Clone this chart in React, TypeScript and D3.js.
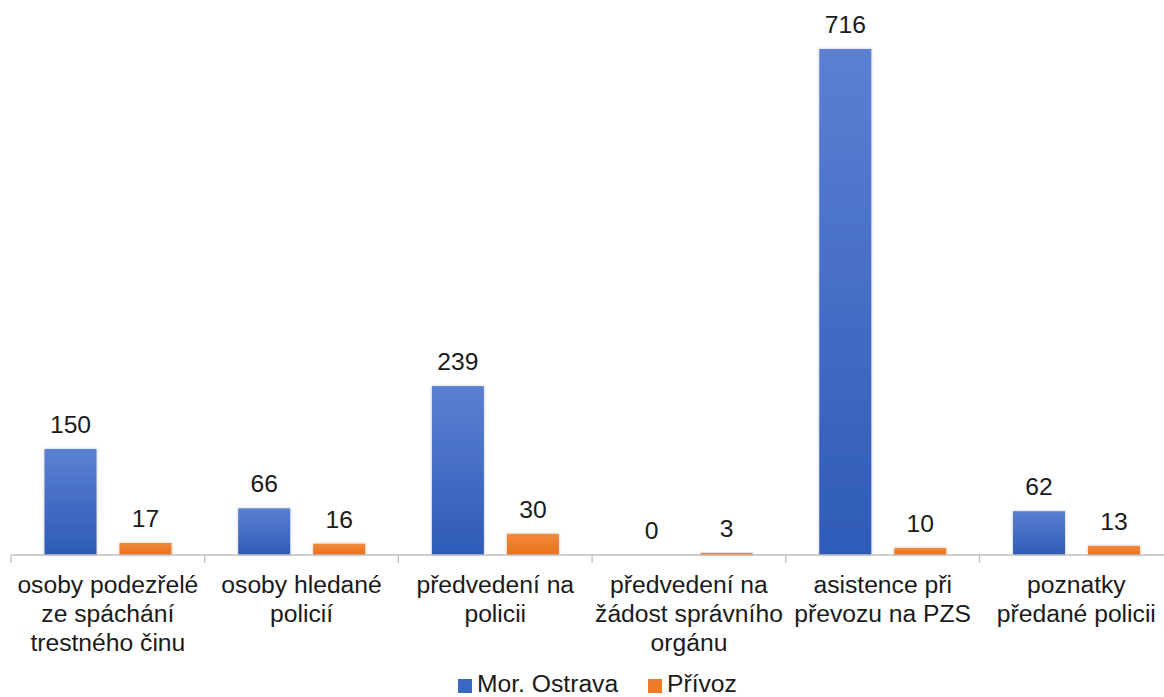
import React from "react";
import * as d3 from "d3";

const categories: string[][] = [
  ["osoby podezřelé", "ze spáchání", "trestného činu"],
  ["osoby hledané", "policií"],
  ["předvedení na", "policii"],
  ["předvedení na", "žádost správního", "orgánu"],
  ["asistence při", "převozu na PZS"],
  ["poznatky", "předané policii"],
];
const seriesNames = ["Mor. Ostrava", "Přívoz"];
const morOstrava = [150, 66, 239, 0, 716, 62];
const privoz = [17, 16, 30, 3, 10, 13];

const W = 1164;
const H = 697;
const FONT = "'Liberation Sans', Arial, sans-serif";
const FS = 23.5;
const SX = 1.05;

function T(props: { x: number; y: number; anchor?: string; children: React.ReactNode }) {
  return (
    <text
      transform={`translate(${props.x},${props.y}) scale(${SX},1)`}
      textAnchor={props.anchor || "middle"}
      fontSize={FS}
      fill="#1a1a1a"
    >
      {props.children}
    </text>
  );
}

export default function App() {
  const baseY = 555;
  const catIdx = categories.map((_, i) => String(i));
  const x0 = d3.scaleBand<string>().domain(catIdx).range([11, 11 + 6 * 193.7]).padding(0);
  const x1 = d3
    .scaleBand<string>()
    .domain(seriesNames)
    .range([33.5, 160.5])
    .paddingInner(23 / 75)
    .paddingOuter(0);
  const y = d3.scaleLinear().domain([0, 716]).range([baseY, 49]);
  const values = [morOstrava, privoz];
  const fills = ["url(#gBlue)", "url(#gOrange)"];

  return (
    <svg
      width={W}
      height={H}
      style={{ position: "absolute", left: 0, top: 0, background: "#fff" }}
      fontFamily={FONT}
    >
      <defs>
        <linearGradient id="gBlue" x1="0" y1="0" x2="0" y2="1">
          <stop offset="0" stopColor="#5b80d2" />
          <stop offset="1" stopColor="#2d5bb7" />
        </linearGradient>
        <linearGradient id="gOrange" x1="0" y1="0" x2="0" y2="1">
          <stop offset="0" stopColor="#f38a3a" />
          <stop offset="1" stopColor="#e8701d" />
        </linearGradient>
        <filter id="sh" x="-20%" y="-20%" width="140%" height="140%">
          <feDropShadow dx="0" dy="0" stdDeviation="1.5" floodColor="#000" floodOpacity="0.25" />
        </filter>
      </defs>
      {catIdx.map((c, i) => (
        <g key={c} transform={`translate(${x0(c)},0)`}>
          {seriesNames.map((s, k) => {
            const v = values[k][i];
            const bx = x1(s)!;
            const top = y(v);
            return (
              <g key={s}>
                {v > 0 && (
                  <rect
                    x={bx}
                    y={top}
                    width={x1.bandwidth()}
                    height={baseY - top}
                    fill={fills[k]}
                    filter="url(#sh)"
                  />
                )}
                <T x={bx + x1.bandwidth() / 2} y={top - 16}>
                  {v}
                </T>
              </g>
            );
          })}
          {categories[i].map((line, j) => (
            <T key={j} x={x0.bandwidth() / 2} y={593 + j * 29}>
              {line}
            </T>
          ))}
        </g>
      ))}
      <line x1={11} x2={W} y1={baseY} y2={baseY} stroke="#bfbfbf" strokeWidth={1.3} />
      {d3.range(7).map((i) => {
        const tx = 11 + i * x0.step();
        return <line key={i} x1={tx} x2={tx} y1={baseY} y2={baseY + 8} stroke="#bfbfbf" strokeWidth={1.3} />;
      })}
      <g>
        <rect x={458} y={679} width={14} height={14} fill="#3a67c4" />
        <T x={477} y={692} anchor="start">
          {seriesNames[0]}
        </T>
        <rect x={648} y={679} width={14} height={14} fill="#ef7a2a" />
        <T x={667} y={692} anchor="start">
          {seriesNames[1]}
        </T>
      </g>
    </svg>
  );
}
